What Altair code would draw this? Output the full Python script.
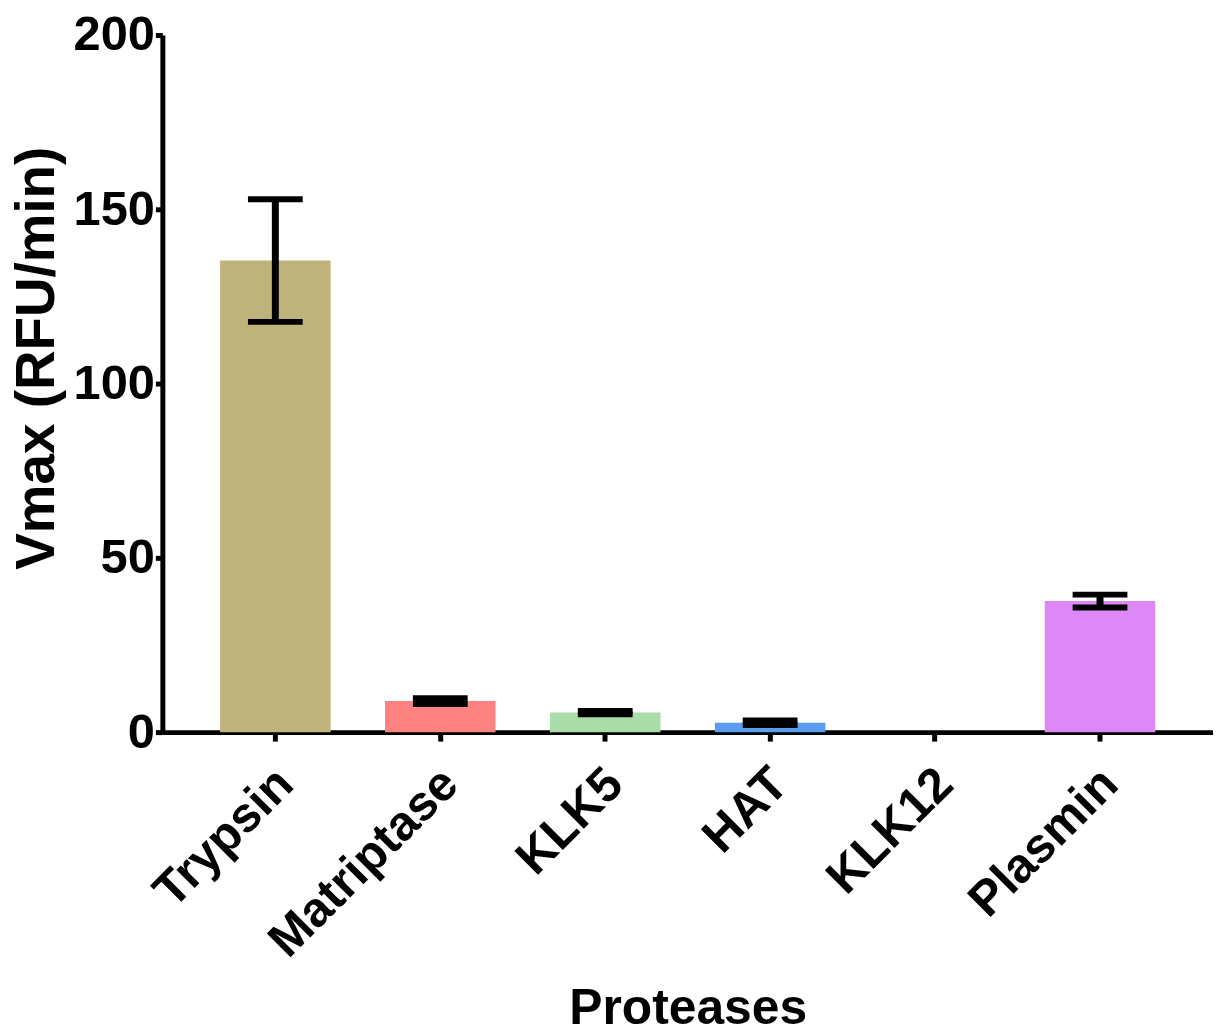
import altair as alt
import pandas as pd

proteases = ["Trypsin", "Matriptase", "KLK5", "HAT", "KLK12", "Plasmin"]
vmax = [135.3, 8.9, 5.6, 2.7, 0.0, 37.6]
sd = [17.6, 0.85, 0.45, 0.65, 0.0, 1.85]
colors = ["#BFB37C", "#FF8282", "#AADDAA", "#5A9CEE", "#FFFFFF", "#DD88F6"]

df = pd.DataFrame({"protease": proteases, "vmax": vmax, "sd": sd})
df["lo"] = df["vmax"] - df["sd"]
df["hi"] = df["vmax"] + df["sd"]
err_df = df[df["sd"] > 0]

FONT = "Liberation Sans"

x_enc = alt.X(
    "protease:N",
    sort=proteases,
    scale=alt.Scale(paddingInner=0.33, paddingOuter=0.35),
    axis=alt.Axis(
        title="Proteases",
        labelAngle=-45,
        labelAlign="right",
        labelBaseline="top",
        labelFontSize=49,
        labelFont=FONT,
        labelFontWeight="bold",
        labelColor="black",
        labelPadding=18,
        labelOffset=-7,
        labelLimit=0,
        titleFontSize=50,
        titleFont=FONT,
        titleFontWeight="bold",
        titleColor="black",
        titlePadding=53,
        domainColor="black",
        domainWidth=5,
        tickColor="black",
        tickWidth=5,
        tickSize=9,
    ),
)

bars = alt.Chart(df).mark_bar().encode(
    x=x_enc,
    y=alt.Y(
        "vmax:Q",
        scale=alt.Scale(domain=[0, 200]),
        axis=alt.Axis(
            title="Vmax (RFU/min)",
            values=[0, 50, 100, 150, 200],
            grid=False,
            labelFontSize=49,
            labelFont=FONT,
            labelFontWeight="bold",
            labelColor="black",
            labelPadding=1,
            titleFontSize=55,
            titleFont=FONT,
            titleFontWeight="bold",
            titleColor="black",
            titlePadding=8,
            titleY=324,
            domainColor="black",
            domainWidth=5,
            tickColor="black",
            tickWidth=5,
            tickSize=7,
        ),
    ),
    color=alt.Color("protease:N", scale=alt.Scale(domain=proteases, range=colors), legend=None),
)

rules = alt.Chart(err_df).mark_rule(color="black", strokeWidth=7).encode(
    x=alt.X("protease:N", sort=proteases),
    y="lo:Q",
    y2="hi:Q",
)

caps_hi = alt.Chart(err_df).mark_tick(color="black", thickness=6, size=55, opacity=1).encode(
    x=alt.X("protease:N", sort=proteases),
    y="hi:Q",
)
caps_lo = alt.Chart(err_df).mark_tick(color="black", thickness=6, size=55, opacity=1).encode(
    x=alt.X("protease:N", sort=proteases),
    y="lo:Q",
)

chart = (
    alt.layer(bars, rules, caps_hi, caps_lo)
    .properties(
        width=1055,
        height=700,
        background="white",
        autosize=alt.AutoSizeParams(type="none"),
        padding={"left": 155, "top": 25, "right": 0, "bottom": 303},
    )
    .configure_view(strokeWidth=0, stroke="transparent")
    .configure_axis(grid=False)
)

chart.save("out.html", embed_options={"renderer": "svg", "actions": False})
